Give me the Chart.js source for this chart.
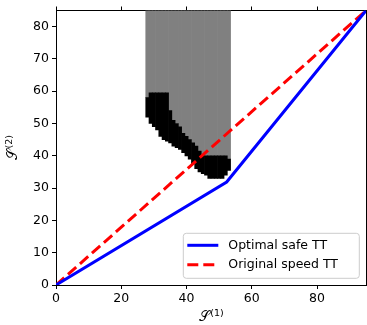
<!DOCTYPE html>
<html>
<head>
<meta charset="utf-8">
<script src="https://cdn.jsdelivr.net/npm/chart.js@4.4.0/dist/chart.umd.min.js"></script>
<style>
body { margin:0; background:#fff; }
#plots { width:367px; height:325px; }
</style>
</head>
<body>
<div id="plots"><canvas id="canvas_1" width="367" height="325"></canvas></div>
<script>
// lines
var safeX=[0,52.3,95];
var safeY=[0,31.9,85];
var speedX=[0,95];
var speedY=[0,85];

// grid cells (one column per unit of S1)
var cellX=[28,29,30,31,32,33,34,35,36,37,38,39,40,41,42,43,44,45,46,47,48,49,50,51,52,53];
var blackLo=[52,50,49,48,46,45,44.5,44,43,42.5,42,41,40,39,37.5,36,35,34.5,34,33,33,33,33,33,34,35.5];
var blackHi=[58,59.5,59.5,59.5,59.5,59.5,59.5,54,51,50,49,47,46,45,44,43,41.5,40,40,40,40,40,40,40,40,39];
var grayTop=85;

var xTicks=[0,20,40,60,80];
var yTicks=[0,10,20,30,40,50,60,70,80];
var serieLabels=['Optimal safe TT','Original speed TT'];
var titleBase='\u{1D4AE}';
var xTitleSup='(1)';
var yTitleSup='(2)';

var colors=['#0000ff','#ff0000','#808080','#000000'];

function pts(xs,ys) {
	var out=[];
	for (var i=0;i<xs.length;i++) { out.push({x:xs[i],y:ys[i]}); }
	return out;
}
function cells(lo,hi) {
	var out=[];
	for (var i=0;i<cellX.length;i++) {
		var a = Array.isArray(lo) ? lo[i] : lo;
		var b = Array.isArray(hi) ? hi[i] : hi;
		out.push({x:cellX[i],y:[a,b]});
	}
	return out;
}
function setTicks(list) {
	return function(scale) { scale.ticks=list.map(function(v){ return {value:v}; }); };
}

// axis title with a real superscript
function drawTitle(ctx,base,sup,cx,cy,rot) {
	ctx.save();
	ctx.translate(cx,cy);
	ctx.rotate(rot);
	ctx.fillStyle='#000';
	ctx.textBaseline='alphabetic';
	ctx.font='14px "DejaVu Sans"';
	var w1=ctx.measureText(base).width;
	ctx.font='9.5px "DejaVu Sans"';
	var w2=ctx.measureText(sup).width;
	var x=-(w1+w2)/2;
	ctx.font='14px "DejaVu Sans"';
	ctx.fillText(base,x,0);
	ctx.font='9.5px "DejaVu Sans"';
	ctx.fillText(sup,x+w1+0.5,-5);
	ctx.restore();
}

var legendBox = {
	id:'legendBox',
	afterDraw: function(chart) {
		var ctx=chart.ctx, a=chart.chartArea;
		var w=176, h=45;
		var x0=a.right-6.7-w, y0=a.bottom-6.7-h;
		ctx.save();
		ctx.beginPath();
		ctx.roundRect(x0,y0,w,h,3);
		ctx.fillStyle='rgba(255,255,255,0.8)';
		ctx.fill();
		ctx.strokeStyle='#cccccc';
		ctx.lineWidth=1;
		ctx.stroke();
		ctx.font='12.5px "DejaVu Sans"';
		ctx.textBaseline='middle';
		for (var i=0;i<2;i++) {
			var ds=chart.data.datasets[i];
			var yy=y0+12+i*19.5;
			ctx.beginPath();
			ctx.setLineDash(ds.borderDash||[]);
			ctx.strokeStyle=ds.borderColor;
			ctx.lineWidth=3;
			ctx.moveTo(x0+4,yy);
			ctx.lineTo(x0+35,yy);
			ctx.stroke();
			ctx.setLineDash([]);
			ctx.fillStyle='#000';
			ctx.fillText(ds.label,x0+45,yy);
		}
		ctx.restore();
		drawTitle(ctx,titleBase,xTitleSup,(a.left+a.right)/2,321,0);
		drawTitle(ctx,titleBase,yTitleSup,17,(a.top+a.bottom)/2,-Math.PI/2);
	}
};

Chart.defaults.font.family='"DejaVu Sans"';
Chart.defaults.font.size=12.5;
Chart.defaults.color='#000';

var canvasToDraw=document.getElementById('canvas_1');
var newChart=new Chart(canvasToDraw, {
	type:'line',
	data:{
		datasets:[
			{ label:serieLabels[0], data:pts(safeX,safeY), borderColor:colors[0], backgroundColor:colors[0],
			  borderWidth:3, pointRadius:0, tension:0, fill:false, clip:0 },
			{ label:serieLabels[1], data:pts(speedX,speedY), borderColor:colors[1], backgroundColor:colors[1],
			  borderWidth:3, borderDash:[11,5], pointRadius:0, tension:0, fill:false, clip:0 },
			{ type:'bar', label:'blocked', data:cells(blackLo,blackHi), backgroundColor:colors[3],
			  borderWidth:0, barPercentage:1, categoryPercentage:1, grouped:false },
			{ type:'bar', label:'free', data:cells(blackHi,grayTop), backgroundColor:colors[2],
			  borderWidth:0, barPercentage:1, categoryPercentage:1, grouped:false }
		]
	},
	options:{
		responsive:false,
		devicePixelRatio:1,
		animation:false,
		layout:{ padding:0 },
		plugins:{ legend:{display:false}, tooltip:{enabled:false} },
		scales:{
			x:{ type:'linear', position:'bottom', min:0, max:95, offset:false,
				afterBuildTicks:setTicks(xTicks),
				afterFit:function(s){ s.height=40; },
				grid:{ drawOnChartArea:false, drawTicks:true, tickLength:4, color:'#000', offset:false },
				border:{ color:'#000', width:1 },
				ticks:{ padding:2, maxRotation:0, autoSkip:false } },
			x2:{ type:'linear', position:'top', min:0, max:95, offset:false,
				afterBuildTicks:setTicks(xTicks),
				afterFit:function(s){ s.height=10; },
				grid:{ drawOnChartArea:false, drawTicks:true, tickLength:4, color:'#000' },
				border:{ color:'#000', width:1 },
				ticks:{ display:false } },
			y:{ type:'linear', position:'left', min:0, max:85,
				afterBuildTicks:setTicks(yTicks),
				afterFit:function(s){ s.width=56; },
				grid:{ drawOnChartArea:false, drawTicks:true, tickLength:4, color:'#000' },
				border:{ color:'#000', width:1 },
				ticks:{ padding:3, autoSkip:false } },
			y2:{ type:'linear', position:'right', min:0, max:85,
				afterFit:function(s){ s.width=1; },
				grid:{ drawOnChartArea:false, drawTicks:false },
				border:{ color:'#000', width:1 },
				ticks:{ display:false } }
		}
	},
	plugins:[legendBox]
});
</script>
</body>
</html>
